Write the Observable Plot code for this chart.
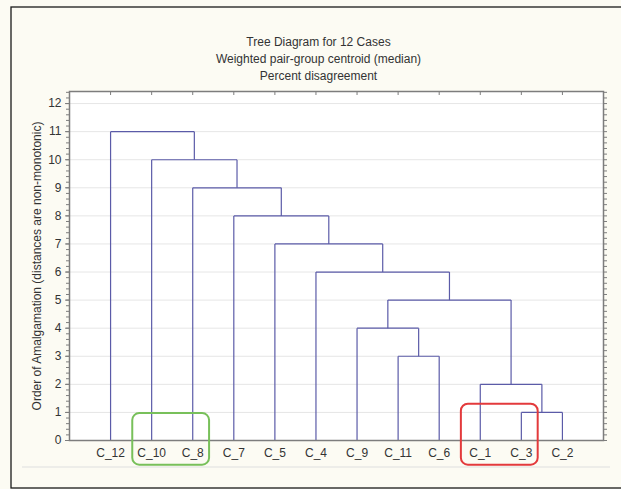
<!DOCTYPE html>
<html>
<head>
<meta charset="utf-8">
<script src="https://cdn.jsdelivr.net/npm/d3@7"></script>
<script src="https://cdn.jsdelivr.net/npm/@observablehq/plot@0.6"></script>
<style>
  html, body { margin: 0; padding: 0; background: #fcfbf3; }
  #chart { width: 621px; height: 489px; position: relative; overflow: hidden; }
  svg { font-family: "Liberation Sans", Arial, sans-serif; }
</style>
</head>
<body>
<div id="chart"></div>
<script>
// ---- data ----
const titleLines = ["Tree Diagram for 12 Cases", "Weighted pair-group centroid (median)", "Percent disagreement"];
const yLabel = "Order of Amalgamation (distances are non-monotonic)";
const leaves = ["C_12", "C_10", "C_8", "C_7", "C_5", "C_4", "C_9", "C_11", "C_6", "C_1", "C_3", "C_2"];
// merge k (1-based) joins mergeLeft[k-1] and mergeRight[k-1]; "#k" refers to cluster from merge k
const mergeLeft   = ["C_3", "C_1", "C_11", "C_9", "#4", "C_4", "C_5", "C_7", "C_8", "C_10", "C_12"];
const mergeRight  = ["C_2", "#1",  "C_6",  "#3",  "#2", "#5",  "#6",  "#7",  "#8",  "#9",   "#10"];
const mergeHeight = [1, 2, 3, 4, 5, 6, 7, 8, 9, 10, 11];
const yTicks = [0, 1, 2, 3, 4, 5, 6, 7, 8, 9, 10, 11, 12];
const boxLeaves = [["C_10", "C_8"], ["C_1", "C_3"]];
const boxColors = ["#78c05a", "#e33a3c"];
const boxTops = [0.96, 1.29];

// ---- build dendrogram segments ----
const clusterX = {}, clusterH = {};
function px(id) { return id.startsWith("#") ? clusterX[id] : leaves.indexOf(id) + 1; }
function ph(id) { return id.startsWith("#") ? clusterH[id] : 0; }
const segs = [];
mergeLeft.forEach((l, i) => {
  const r = mergeRight[i], h = mergeHeight[i];
  const xl = px(l), xr = px(r);
  segs.push({x1: xl, y1: ph(l), x2: xl, y2: h});
  segs.push({x1: xr, y1: ph(r), x2: xr, y2: h});
  segs.push({x1: xl, y1: h, x2: xr, y2: h});
  clusterX["#" + (i + 1)] = (xl + xr) / 2;
  clusterH["#" + (i + 1)] = h;
});
const leafIdx = leaves.map((d, i) => i + 1);
const minorTicks = d3.range(0, 12.41, 0.2).map(v => +v.toFixed(2));
const boxes = boxLeaves.map((g, i) => ({
  x1: leaves.indexOf(g[0]) + 1 - 0.46,
  x2: leaves.indexOf(g[g.length - 1]) + 1 + 0.41,
  y1: -0.88, y2: boxTops[i], color: boxColors[i]
}));

const txt = "#333";
const fs = 12;
const chart = Plot.plot({
  width: 621,
  height: 489,
  marginLeft: 69,
  marginRight: 18,
  marginTop: 91,
  marginBottom: 49,
  style: {background: "transparent", fontFamily: "Liberation Sans, Arial, sans-serif", fontSize: "12px", color: txt},
  x: {domain: [0, 13], axis: null},
  y: {domain: [0, 12.43], axis: null},
  marks: [
    Plot.frame({fill: "white", stroke: "none"}),
    Plot.ruleY(yTicks.filter(d => d > 0), {stroke: "#e6e6e6", strokeWidth: 1}),
    Plot.link(segs, {x1: "x1", y1: "y1", x2: "x2", y2: "y2", stroke: "#5b5ba8", strokeWidth: 1.2}),
    Plot.frame({stroke: "#7d7d7d", strokeWidth: 1.5}),
    Plot.axisY({anchor: "left", ticks: minorTicks, tickSize: 3, tickFormat: () => "", stroke: "#7d7d7d"}),
    Plot.axisY({anchor: "left", ticks: yTicks, tickSize: 4, tickPadding: 4, tickFormat: d => String(d), fill: txt, fontSize: fs, stroke: "#7d7d7d"}),
    Plot.axisY({anchor: "right", ticks: minorTicks, tickSize: 3, tickFormat: () => "", stroke: "#7d7d7d"}),
    Plot.axisX({anchor: "top", ticks: leafIdx, tickSize: -3, tickFormat: () => "", stroke: "#7d7d7d"}),
    Plot.axisX({anchor: "bottom", ticks: leafIdx, tickSize: 0, tickPadding: 8, tickFormat: i => leaves[i - 1], fill: txt, fontSize: fs}),
    Plot.text([yLabel], {frameAnchor: "left", textAnchor: "middle", rotate: -90, dx: -32, fill: txt, fontSize: fs}),
    Plot.text([titleLines[0]], {frameAnchor: "top", dx: -18, dy: -54, fill: txt, fontSize: fs}),
    Plot.text([titleLines[1]], {frameAnchor: "top", dx: -18, dy: -37, fill: txt, fontSize: fs}),
    Plot.text([titleLines[2]], {frameAnchor: "top", dx: -18, dy: -20, fill: txt, fontSize: fs}),
    Plot.rect(boxes, {x1: "x1", x2: "x2", y1: "y1", y2: "y2", stroke: "color", fill: "none", strokeWidth: 2, rx: 7})
  ]
});
document.getElementById("chart").appendChild(chart);

// decorative outer frame and bottom separator line
const svg = d3.select(chart);
svg.insert("line", ":first-child")
  .attr("x1", 22).attr("x2", 610).attr("y1", 467).attr("y2", 467)
  .attr("stroke", "#e8e8e6").attr("stroke-width", 1.5);
svg.append("rect")
  .attr("x", 11).attr("y", 7).attr("width", 700).attr("height", 481)
  .attr("fill", "none").attr("stroke", "#1a1a1a").attr("stroke-width", 1.3);
</script>
</body>
</html>
